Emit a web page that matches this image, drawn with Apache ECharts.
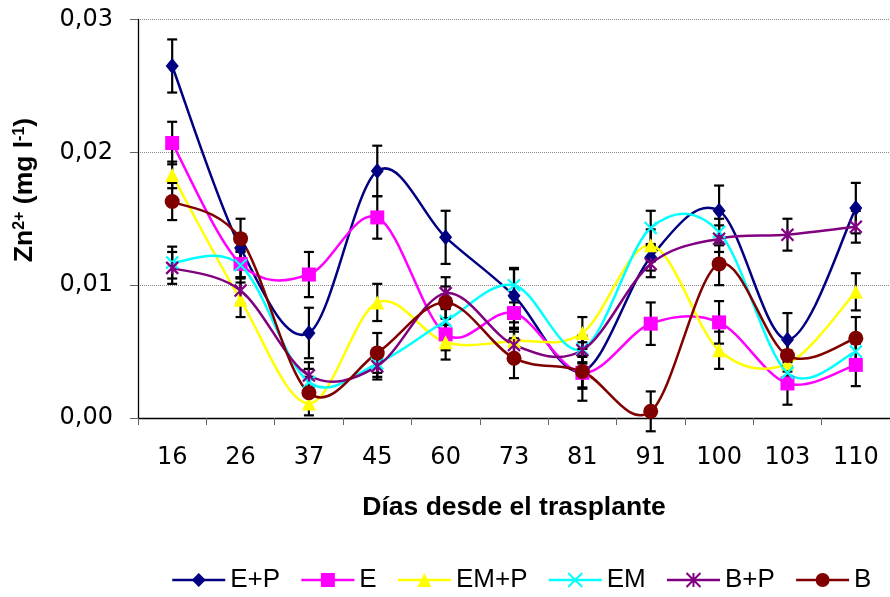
<!DOCTYPE html>
<html>
<head>
<meta charset="utf-8">
<script src="https://cdn.jsdelivr.net/npm/echarts@6/dist/echarts.min.js"></script>
<style>
  html, body { margin: 0; padding: 0; background: #fff; }
  #chart { width: 890px; height: 597px; }
</style>
</head>
<body>
<div id="chart"></div>
<script>
// Days after transplanting (category axis)
const days = ['16', '26', '37', '45', '60', '73', '81', '91', '100', '103', '110'];
const yTicks = [0, 0.01, 0.02, 0.03];

// Zn2+ concentration (mg l-1) per treatment
const seriesNames = ['E+P', 'E', 'EM+P', 'EM', 'B+P', 'B'];
const valEP  = [0.0265, 0.0128, 0.0064, 0.0186, 0.0136, 0.0092, 0.0035, 0.0121, 0.0156, 0.0059, 0.0158];
const valE   = [0.0207, 0.0116, 0.0108, 0.0151, 0.0063, 0.0079, 0.0034, 0.0071, 0.0072, 0.0026, 0.0040];
const valEMP = [0.0183, 0.0089, 0.0011, 0.0087, 0.0057, 0.0058, 0.0064, 0.0130, 0.0051, 0.0041, 0.0095];
const valEM  = [0.0117, 0.0115, 0.0027, 0.0041, 0.0073, 0.0100, 0.0052, 0.0143, 0.0140, 0.0034, 0.0050];
const valBP  = [0.0113, 0.0096, 0.0032, 0.0039, 0.0094, 0.0055, 0.0051, 0.0116, 0.0135, 0.0138, 0.0144];
const valB   = [0.0163, 0.0135, 0.0019, 0.0049, 0.0087, 0.0045, 0.0035, 0.0005, 0.0116, 0.0047, 0.0060];

// Standard errors (half-length of each error bar)
const errEP  = [0.0020, 0.0010, 0.0019, 0.0019, 0.0020, 0.0020, 0.0022, 0.0010, 0.0019, 0.0020, 0.0019];
const errE   = [0.0016, 0.0010, 0.0017, 0.0016, 0.0012, 0.0012, 0.0012, 0.0016, 0.0016, 0.0016, 0.0016];
const errEMP = [0.0010, 0.0013, 0.0009, 0.0014, 0.0013, 0.0010, 0.0012, 0.0012, 0.0014, 0.0010, 0.0014];
const errEM  = [0.0012, 0.0010, 0.0010, 0.0010, 0.0010, 0.0013, 0.0010, 0.0013, 0.0010, 0.0010, 0.0010];
const errBP  = [0.0012, 0.0010, 0.0010, 0.0010, 0.0012, 0.0010, 0.0010, 0.0010, 0.0010, 0.0012, 0.0012];
const errB   = [0.0014, 0.0015, 0.0012, 0.0015, 0.0012, 0.0015, 0.0012, 0.0015, 0.0016, 0.0012, 0.0016];

const values = [valEP, valE, valEMP, valEM, valBP, valB];
const errors = [errEP, errE, errEMP, errEM, errBP, errB];
const colors = ['#000080', '#FF00FF', '#FFFF00', '#00FFFF', '#800080', '#800000'];
const symbols = [
  'diamond',
  'rect',
  'triangle',
  'path://M0,0L10,10M10,0L0,10',
  'path://M0,0L10,10M10,0L0,10M5,0L5,10',
  'circle'
];
const symbolSizes = [[13, 16], 14, 14, 12, 12, 15];

const FONT = '"Liberation Sans", Arial, sans-serif';
const TICK_FONT = '"DejaVu Sans", "Liberation Sans", sans-serif';

// Error bar records: [category index, low, high]
const errData = [];
values.forEach((vals, s) => {
  vals.forEach((v, i) => errData.push([i, v - errors[s][i], v + errors[s][i]]));
});

// Smoothed connecting curves: cubic Bezier segments with Catmull-Rom tangents
function curveSeries(s) {
  const vals = values[s];
  const n = vals.length;
  return {
    type: 'custom',
    z: 2,
    silent: true,
    data: vals.map((v, i) => [i, v]),
    encode: { x: 0, y: 1 },
    renderItem: function (params, api) {
      const i = params.dataIndex;
      if (i >= n - 1) return null;
      const P = k => api.coord([k, vals[k]]);
      const p0 = P(Math.max(i - 1, 0));
      const p1 = P(i);
      const p2 = P(i + 1);
      const p3 = P(Math.min(i + 2, n - 1));
      return {
        type: 'bezierCurve',
        shape: {
          x1: p1[0], y1: p1[1],
          cpx1: p1[0] + (p2[0] - p0[0]) / 6, cpy1: p1[1] + (p2[1] - p0[1]) / 6,
          cpx2: p2[0] - (p3[0] - p1[0]) / 6, cpy2: p2[1] - (p3[1] - p1[1]) / 6,
          x2: p2[0], y2: p2[1]
        },
        style: { stroke: colors[s], lineWidth: 2.5, fill: null, lineCap: 'round' }
      };
    }
  };
}

// Marker series (also provide the legend entries)
const markerSeries = seriesNames.map((name, s) => {
  const isStroke = s === 3 || s === 4;
  return {
    name: name,
    type: 'line',
    data: values[s],
    z: 4,
    symbol: symbols[s],
    symbolSize: symbolSizes[s],
    showAllSymbol: true,
    lineStyle: { color: colors[s], width: 2.5, opacity: 0 },
    itemStyle: isStroke
      ? { color: colors[s], borderColor: colors[s], borderWidth: 2.2 }
      : { color: colors[s], borderWidth: 0 },
    emphasis: { disabled: true }
  };
});

const errorSeries = {
  type: 'custom',
  z: 3,
  silent: true,
  data: errData,
  encode: { x: 0, y: [1, 2] },
  renderItem: function (params, api) {
    const x = api.value(0);
    const lo = api.coord([x, api.value(1)]);
    const hi = api.coord([x, api.value(2)]);
    const half = 5;
    const style = { stroke: '#000', lineWidth: 2.2 };
    return {
      type: 'group',
      children: [
        { type: 'line', shape: { x1: lo[0], y1: lo[1], x2: hi[0], y2: hi[1] }, style: style },
        { type: 'line', shape: { x1: lo[0] - half, y1: lo[1], x2: lo[0] + half, y2: lo[1] }, style: style },
        { type: 'line', shape: { x1: hi[0] - half, y1: hi[1], x2: hi[0] + half, y2: hi[1] }, style: style }
      ]
    };
  }
};

const chart = echarts.init(document.getElementById('chart'), null, { renderer: 'canvas' });
chart.setOption({
  animation: false,
  backgroundColor: '#ffffff',
  textStyle: { fontFamily: FONT },
  grid: { left: 138, top: 19.5, right: 0, bottom: 179, containLabel: false },
  xAxis: {
    type: 'category',
    data: days,
    boundaryGap: true,
    axisLine: { lineStyle: { color: '#000', width: 1.3 } },
    axisTick: { show: true, length: 7, lineStyle: { color: '#666' } },
    axisLabel: { color: '#000', fontSize: 24, margin: 28, fontFamily: TICK_FONT },
    name: 'Días desde el trasplante',
    nameLocation: 'middle',
    nameGap: 76,
    nameTextStyle: { color: '#000', fontSize: 26.5, fontWeight: 'bold', fontFamily: FONT },
    splitLine: { show: false }
  },
  yAxis: {
    type: 'value',
    min: yTicks[0],
    max: yTicks[yTicks.length - 1],
    interval: 0.01,
    axisLine: { show: true, lineStyle: { color: '#000', width: 1.3 } },
    axisTick: { show: true, length: 8, inside: false, lineStyle: { color: '#666' } },
    axisLabel: {
      color: '#000', fontSize: 24, margin: 25, fontFamily: TICK_FONT,
      formatter: v => v.toFixed(2).replace('.', ',')
    },
    splitLine: { show: true, lineStyle: { color: '#888', type: 'dotted', width: 1 } }
  },
  legend: {
    data: seriesNames,
    left: 171,
    top: 567,
    padding: 0,
    orient: 'horizontal',
    itemWidth: 53,
    itemHeight: 17.5,
    itemGap: 20,
    lineStyle: { opacity: 1, width: 2.5 },
    textStyle: { color: '#000', fontSize: 26, fontFamily: FONT },
    selectedMode: false
  },
  graphic: [{
    type: 'text',
    x: 25,
    y: 190,
    rotation: Math.PI / 2,
    style: {
      text: '{b|Zn}{s|2+}{b| (mg l}{s|-1}{b|)}',
      align: 'center',
      verticalAlign: 'middle',
      fill: '#000',
      rich: {
        b: { fontSize: 26.5, fontWeight: 'bold', fontFamily: FONT, fill: '#000', verticalAlign: 'bottom' },
        s: { fontSize: 16, fontWeight: 'bold', fontFamily: FONT, fill: '#000', verticalAlign: 'top', padding: [0, 0, 11, 0] }
      }
    }
  }],
  series: values.map((v, s) => curveSeries(s)).concat([errorSeries], markerSeries)
});
</script>
</body>
</html>
